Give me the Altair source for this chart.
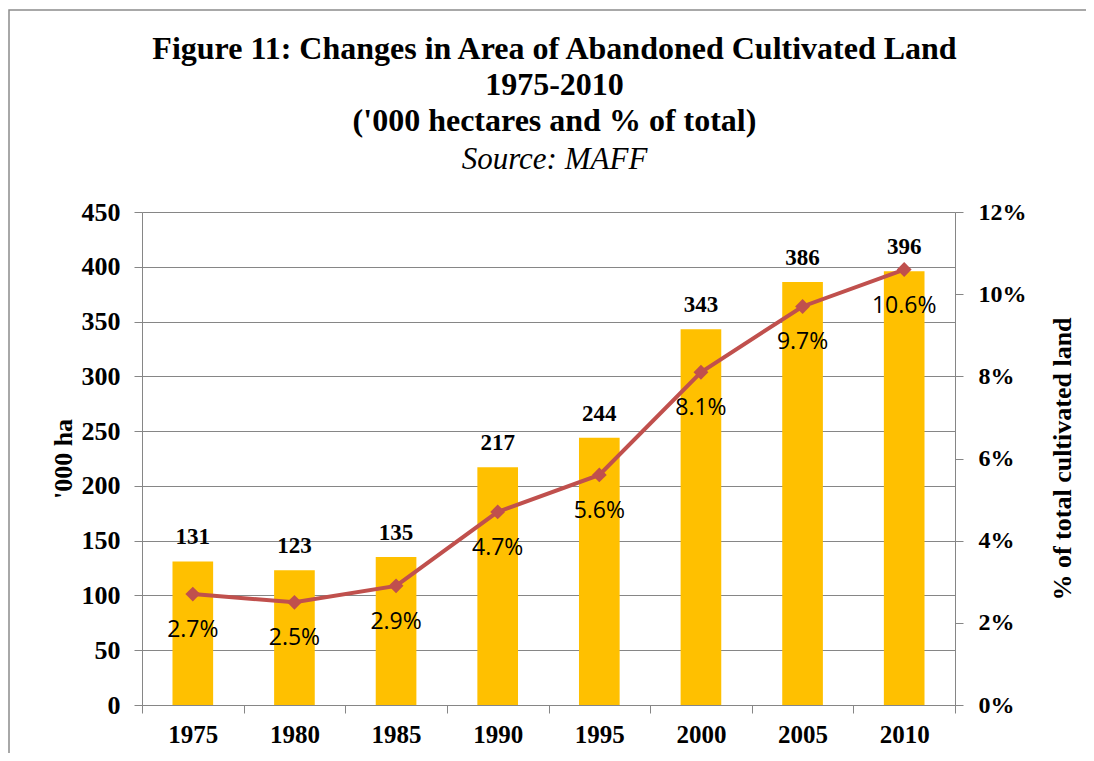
import altair as alt
import pandas as pd

# ---- data ----
years = ["1975", "1980", "1985", "1990", "1995", "2000", "2005", "2010"]
area = [131, 123, 135, 217, 244, 343, 386, 396]          # '000 ha
share = [2.7, 2.5, 2.9, 4.7, 5.6, 8.1, 9.7, 10.6]         # % of total cultivated land
left_ticks = [0, 50, 100, 150, 200, 250, 300, 350, 400, 450]
right_ticks = [0, 2, 4, 6, 8, 10, 12]
title_lines = [
    "Figure 11: Changes in Area of Abandoned Cultivated Land",
    "1975-2010",
    "('000 hectares and % of total)",
]
subtitle_text = "Source: MAFF"
left_title = "'000 ha"
right_title = "% of total cultivated land"

df = pd.DataFrame({"year": years, "area": area, "share": share})

SERIF = "Liberation Serif"
SANS = "Open Sans"
GRAY = "#868686"
GOLD = "#FFC000"
RED = "#C0504D"

x_enc = alt.X(
    "year:N", sort=years, title=None,
    scale=alt.Scale(paddingInner=0, paddingOuter=0),
    axis=alt.Axis(labelAngle=0, tickBand="extent", tickSize=8, tickColor=GRAY,
                  domainColor=GRAY, labelFont=SERIF, labelFontSize=25,
                  labelFontWeight="bold", labelColor="black", labelPadding=9,
                  grid=False),
)

y_left = alt.Y(
    "area:Q", scale=alt.Scale(domain=[0, 450], nice=False),
    axis=alt.Axis(values=left_ticks, title=left_title, titleFont=SERIF,
                  titleFontSize=26, titleFontWeight="bold", titleColor="black",
                  titleAngle=270, titleX=-79, titleY=246.5, titleAlign="center",
                  titleBaseline="middle", labelFont=SERIF, labelFontSize=26,
                  labelFontWeight="bold", labelColor="black", labelPadding=14,
                  tickSize=8, tickColor=GRAY, domainColor=GRAY, grid=True,
                  gridColor=GRAY, gridOpacity=1),
)

y_right = alt.Y(
    "share:Q", scale=alt.Scale(domain=[0, 12], nice=False),
    axis=alt.Axis(orient="right", values=right_ticks,
                  labelExpr="datum.value + '%'", title=right_title,
                  titleFont=SERIF, titleFontSize=26, titleFontWeight="bold",
                  titleColor="black", titleAngle=270, titleX=107, titleY=246.5,
                  titleAlign="center", titleBaseline="middle", labelFont=SERIF,
                  labelFontSize=24, labelFontWeight="bold", labelColor="black",
                  labelPadding=15, tickSize=8, tickColor=GRAY, domainColor=GRAY,
                  grid=False),
)

base = alt.Chart(df)

bars = base.mark_bar(color=GOLD, width=alt.RelativeBandSize(0.4)).encode(x=x_enc, y=y_left)
bar_text = base.mark_text(font=SERIF, fontSize=23, fontWeight="bold", color="black",
                          baseline="middle", dy=-24).encode(x=x_enc, y=y_left, text="area:Q")

line = base.mark_line(color=RED, strokeWidth=4).encode(x=x_enc, y=y_right)
points = base.mark_point(shape="diamond", filled=True, size=220, color=RED,
                         opacity=1).encode(x=x_enc, y=y_right)
pct_text = base.transform_calculate(
    label="format(datum.share, '.1f') + '%'"
).mark_text(font=SANS, fontSize=23, color="black", baseline="middle", dy=36).encode(
    x=x_enc, y=y_right, text="label:N")

# outer frame of the figure (decoration): left and top edges visible
frame = alt.Chart(pd.DataFrame({"k": [0]})).mark_rect(
    fillOpacity=0, stroke="#8C8C8C", strokeWidth=1.5
).encode(x=alt.value(-133), x2=alt.value(1200), y=alt.value(-202), y2=alt.value(900))

left = alt.layer(bars, bar_text)
right = alt.layer(line, points, pct_text)

chart = alt.layer(frame, left, right).resolve_scale(y="independent").properties(
    width=813, height=493,
    title=alt.TitleParams(
        text=title_lines, subtitle=subtitle_text, font=SERIF, fontSize=32,
        fontWeight="bold", lineHeight=36, color="black", subtitleFont=SERIF,
        subtitleFontSize=31, subtitleFontStyle="italic",
        subtitleFontWeight="normal", subtitleColor="black", subtitlePadding=7,
        anchor="middle", frame="group", dx=6, offset=-167,
    ),
    padding={"left": 134, "top": 204, "right": 131, "bottom": 48},
    autosize=alt.AutoSizeParams(type="none"),
).configure_view(strokeWidth=0).configure(background="white")

chart.save("out.html", embed_options={"renderer": "svg", "actions": False})
